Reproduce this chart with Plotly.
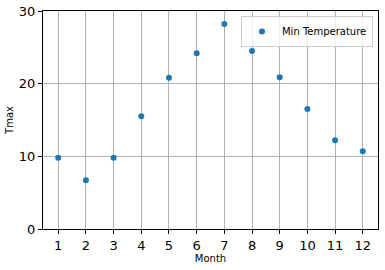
import plotly.graph_objects as go

months = [1, 2, 3, 4, 5, 6, 7, 8, 9, 10, 11, 12]
tmin = [9.8, 6.7, 9.8, 15.5, 20.8, 24.2, 28.2, 24.5, 20.9, 16.5, 12.2, 10.7]
series_name = "Min Temperature"
y_ticks = [0, 10, 20, 30]

fig = go.Figure()
fig.add_trace(go.Scatter(
    x=months, y=tmin, mode="markers", name=series_name,
    marker=dict(color="#1f77b4", size=6, line=dict(width=0)),
))

axis_common = dict(
    showline=True, linecolor="black", linewidth=1, mirror=True,
    ticks="outside", ticklen=4, tickcolor="black",
    showgrid=True, gridcolor="#b0b0b0", gridwidth=1, zeroline=False,
    tickfont=dict(family="DejaVu Sans", size=13, color="black"),
    automargin=False,
)

fig.update_layout(
    width=385, height=270,
    margin=dict(l=43, r=7, t=11, b=41),
    paper_bgcolor="white", plot_bgcolor="white",
    showlegend=True,
    legend=dict(x=0.985, y=0.977, xanchor="right", yanchor="top",
                bgcolor="rgba(255,255,255,0.8)", bordercolor="#cccccc", borderwidth=1,
                font=dict(family="DejaVu Sans", size=10, color="black"),
                itemwidth=30, tracegroupgap=0),
    xaxis=dict(range=[0.45, 12.55], tickvals=months,
               title=dict(text="Month", font=dict(family="DejaVu Sans", size=10, color="black"), standoff=3),
               **axis_common),
    yaxis=dict(range=[0, 30], tickvals=y_ticks,
               title=dict(text="Tmax", font=dict(family="DejaVu Sans", size=10, color="black"), standoff=3),
               **axis_common),
)

fig.write_html("out.html")
